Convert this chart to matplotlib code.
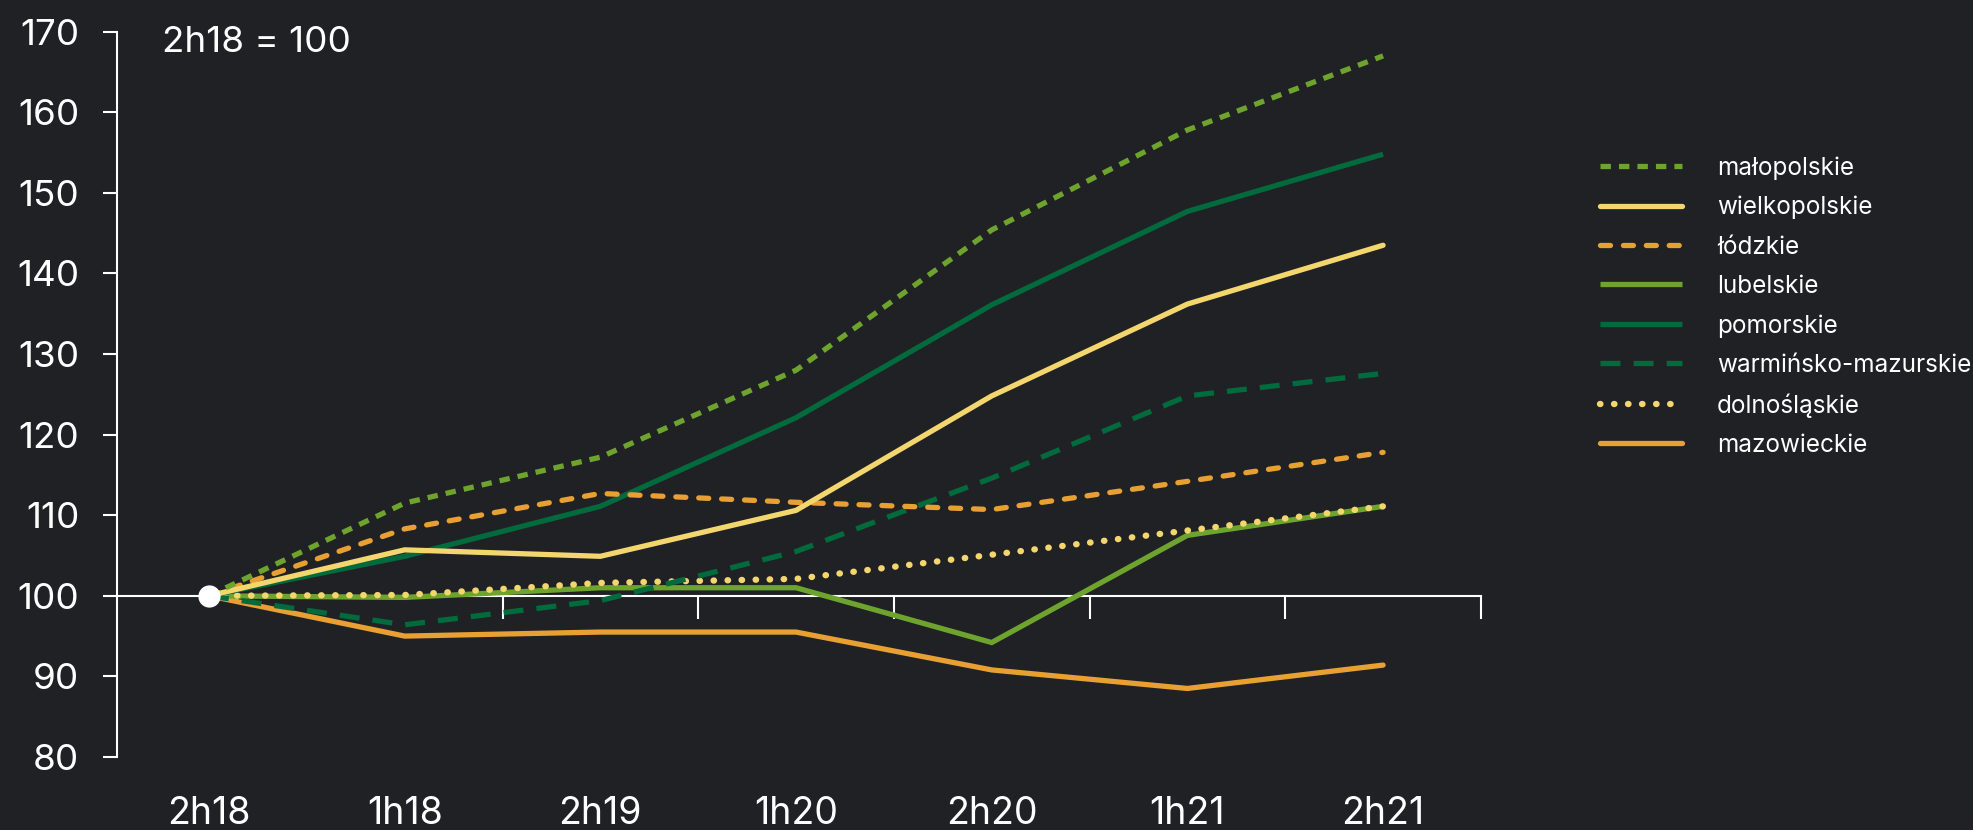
import matplotlib
matplotlib.use("Agg")
import matplotlib.pyplot as plt

# Half-year periods
periods = ["2h18", "1h18", "2h19", "1h20", "2h20", "1h21", "2h21"]

# Index values per voivodeship (2h18 = 100)
malopolskie = [100, 111.5, 117.2, 128.0, 145.4, 157.8, 167.0]
wielkopolskie = [100, 105.7, 104.9, 110.6, 124.8, 136.2, 143.5]
lodzkie = [100, 108.3, 112.7, 111.6, 110.7, 114.2, 117.8]
lubelskie = [100, 99.8, 101.0, 101.0, 94.2, 107.5, 111.1]
pomorskie = [100, 104.9, 111.1, 122.1, 136.1, 147.7, 154.8]
warminsko_mazurskie = [100, 96.4, 99.4, 105.5, 114.6, 124.8, 127.6]
dolnoslaskie = [100, 100.1, 101.6, 102.1, 105.1, 108.1, 111.1]
mazowieckie = [100, 95.0, 95.5, 95.5, 90.8, 88.5, 91.4]

y_ticks = [80, 90, 100, 110, 120, 130, 140, 150, 160, 170]

BG = "#202125"
LIGHT_GREEN = "#6EA42D"
DARK_GREEN = "#016B3D"
YELLOW = "#F3D66E"
ORANGE = "#E8A032"
WHITE = "#FFFFFF"

plt.rcParams["font.family"] = ["Inter", "DejaVu Sans"]
plt.rcParams["lines.scale_dashes"] = False

fig = plt.figure(figsize=(19.73, 8.30), dpi=100, facecolor=BG)
ax = fig.add_axes([0.0593, 0.0880, 0.6913, 0.8738])
ax.set_facecolor(BG)

lw = 3.8
x = list(range(len(periods)))

# (label, values, color, linestyle, capstyle, zorder, width)
series = [
    ("małopolskie", malopolskie, LIGHT_GREEN, (0, (7.5, 5.8)), "butt", 9, lw),
    ("wielkopolskie", wielkopolskie, YELLOW, "-", "round", 8, lw),
    ("łódzkie", lodzkie, ORANGE, (0, (7.2, 9.3)), "round", 7, lw),
    ("lubelskie", lubelskie, LIGHT_GREEN, "-", "butt", 3, lw),
    ("pomorskie", pomorskie, DARK_GREEN, "-", "butt", 6, lw),
    ("warmińsko-mazurskie", warminsko_mazurskie, DARK_GREEN, (0, (14.4, 9.4)), "butt", 5, lw),
    ("dolnośląskie", dolnoslaskie, YELLOW, (0, (0.3, 9.8)), "round", 4, lw + 0.8),
    ("mazowieckie", mazowieckie, ORANGE, "-", "round", 2, lw),
]

for label, vals, color, ls, cap, z, w in series:
    ax.plot(x, vals, color=color, linestyle=ls, linewidth=w, label=label,
            solid_capstyle=cap, dash_capstyle=cap, solid_joinstyle="miter",
            zorder=z)

# Base point marker
ax.plot([x[0]], [dolnoslaskie[0]], marker="o", markersize=15, color=WHITE,
        linestyle="none", zorder=20)

ax.set_xlim(-0.47, 6.5)
ax.set_ylim(80, 170)

for side in ("top", "right"):
    ax.spines[side].set_visible(False)
ax.spines["left"].set_color(WHITE)
ax.spines["left"].set_linewidth(1.5)
ax.spines["left"].set_bounds(80, 170)

# Horizontal axis drawn at the base level 100
ax.spines["bottom"].set_position(("data", 100))
ax.spines["bottom"].set_color(WHITE)
ax.spines["bottom"].set_linewidth(1.5)
ax.spines["bottom"].set_bounds(-0.47, 6.5)
ax.set_xticks([i + 0.5 for i in range(1, len(periods))])
ax.tick_params(axis="x", direction="out", length=16.5, width=1.5, color=WHITE,
               labelbottom=False)

ax.set_yticks(y_ticks)
ax.tick_params(axis="y", direction="out", length=10, width=1.5, color=WHITE,
               labelcolor=WHITE, labelsize=26.5, pad=17)

for i, p in enumerate(periods):
    ax.text(i, -0.079, p, transform=ax.get_xaxis_transform(), ha="center",
            va="center", color=WHITE, fontsize=27)

fig.text(162 / 1973, 1 - 42 / 830, "2h18 = 100", ha="left", va="center",
         color=WHITE, fontsize=26.5)

leg = ax.legend(loc="upper left", bbox_to_anchor=(1600 / 1973, 1 - 156 / 830),
                bbox_transform=fig.transFigure, frameon=False, fontsize=17.5,
                handlelength=3.37, handletextpad=1.44, labelspacing=0.67,
                borderpad=0, borderaxespad=0)
for t in leg.get_texts():
    t.set_color(WHITE)

fig.savefig("out.png", dpi=100, facecolor=BG)
